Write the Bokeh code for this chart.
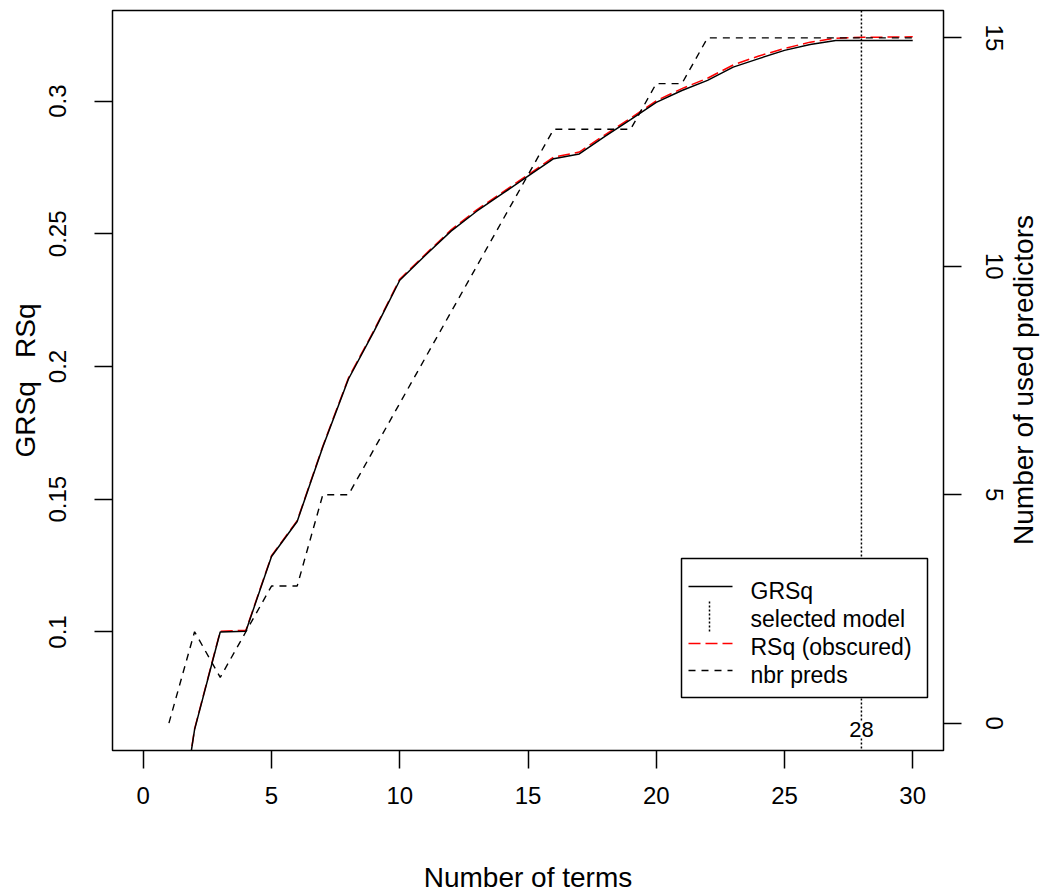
import math
from bokeh.plotting import figure
from bokeh.layouts import row
from bokeh.models import Range1d, LinearAxis, FixedTicker, Span, Label, BoxAnnotation, Arrow
from bokeh.embed import file_html
from bokeh.resources import INLINE

# model size (number of terms) on the x axis
n_terms = list(range(1, 31))

# generalized R-squared of each pruned model
grsq = [0.0000, 0.0632, 0.1000, 0.1003, 0.1284, 0.1416, 0.1697, 0.1953, 0.2133, 0.2325,
        0.2419, 0.2510, 0.2585, 0.2651, 0.2717, 0.2783, 0.2801, 0.2867, 0.2930, 0.2995,
        0.3040, 0.3078, 0.3128, 0.3160, 0.3191, 0.3213, 0.3228, 0.3228, 0.3228, 0.3228]

# in-sample R-squared of each pruned model
rsq = [0.0000, 0.0635, 0.1003, 0.1006, 0.1287, 0.1419, 0.1700, 0.1957, 0.2137, 0.2329,
       0.2423, 0.2515, 0.2590, 0.2656, 0.2722, 0.2789, 0.2808, 0.2873, 0.2936, 0.3001,
       0.3047, 0.3086, 0.3136, 0.3170, 0.3198, 0.3222, 0.3237, 0.3240, 0.3241, 0.3242]

# number of predictors used by each pruned model
nbr_preds = [0, 2, 1, 2, 3, 3, 5, 5, 6, 7, 8, 9, 10, 11, 12,
             13, 13, 13, 13, 14, 14, 15, 15, 15, 15, 15, 15, 15, 15, 15]

selected_terms = 28

x_ticks = [0, 5, 10, 15, 20, 25, 30]
left_ticks = [0.1, 0.15, 0.2, 0.25, 0.3]
left_tick_labels = ["0.1", "0.15", "0.2", "0.25", "0.3"]
right_ticks = [0, 5, 10, 15]

FONT = "Liberation Sans"
TICK_FS = "24px"
TITLE_FS = "28px"
LEG_FS = "23px"

MAIN_W, STRIP_W, H = 1006, 40, 895

p = figure(width=MAIN_W, height=H,
           x_range=Range1d(-1.2, 31.2), y_range=Range1d(0.05534, 0.33412),
           output_backend="svg", toolbar_location=None,
           min_border_left=112, min_border_right=MAIN_W - 943,
           min_border_top=10, min_border_bottom=144)
p.extra_y_ranges = {"preds": Range1d(-0.6, 15.6)}
p.background_fill_color = "white"
p.border_fill_color = "white"
p.outline_line_color = "black"
p.outline_line_width = 1.5
p.xgrid.visible = False
p.ygrid.visible = False


def style_axis(ax):
    ax.axis_line_color = None
    ax.major_tick_out = 18
    ax.major_tick_in = 0
    ax.minor_tick_out = 0
    ax.minor_tick_in = 0
    ax.major_tick_line_width = 1.5
    ax.major_tick_line_color = "black"
    ax.major_label_text_font = FONT
    ax.major_label_text_font_size = TICK_FS
    ax.major_label_text_color = "black"
    ax.axis_label_text_font = FONT
    ax.axis_label_text_font_size = TITLE_FS
    ax.axis_label_text_font_style = "normal"
    ax.axis_label_text_color = "black"


xa = p.xaxis[0]
style_axis(xa)
xa.ticker = FixedTicker(ticks=x_ticks)
xa.axis_label = "Number of terms"
xa.major_label_standoff = 18
xa.axis_label_standoff = 55

ya = p.yaxis[0]
style_axis(ya)
ya.ticker = FixedTicker(ticks=left_ticks)
ya.major_label_overrides = {t: s for t, s in zip(left_ticks, left_tick_labels)}
ya.major_label_orientation = "vertical"
ya.axis_label = "GRSq \u00a0 RSq"
ya.major_label_standoff = 28
ya.axis_label_standoff = 6

ra = LinearAxis(y_range_name="preds")
style_axis(ra)
ra.ticker = FixedTicker(ticks=right_ticks)
ra.major_label_orientation = "vertical"
ra.major_label_standoff = 24
p.add_layout(ra, "right")

# curves: RSq underneath, GRSq on top, predictor count on the right scale
p.line(n_terms, rsq, line_color="red", line_width=1.5, line_dash="12 5")
p.line(n_terms, grsq, line_color="black", line_width=1.5)
p.line(n_terms, nbr_preds, y_range_name="preds", line_color="black",
       line_width=1.4, line_dash="7 6")

# selected model marker
p.add_layout(Span(location=selected_terms, dimension="height", line_color="black",
                  line_width=1.5, line_dash="2 2"))
p.add_layout(Label(x=selected_terms, x_units="data", y=21, y_units="screen",
                   text=str(selected_terms), text_align="center", text_baseline="middle",
                   text_font=FONT, text_font_size="22px", text_color="black",
                   background_fill_color="white"))

# legend box
p.add_layout(BoxAnnotation(left=569, right=815, bottom=53, top=192,
                           left_units="screen", right_units="screen",
                           bottom_units="screen", top_units="screen",
                           fill_color="white", fill_alpha=1.0,
                           line_color="black", line_width=1.5, line_alpha=1.0))

sample_x0, sample_x1 = 576, 620
p.add_layout(Arrow(end=None, x_start=sample_x0, y_start=164, x_end=sample_x1, y_end=164,
                   start_units="screen", end_units="screen",
                   line_color="black", line_width=1.5))
p.add_layout(Arrow(end=None, x_start=597, y_start=149, x_end=597, y_end=118,
                   start_units="screen", end_units="screen",
                   line_color="black", line_width=1.5, line_dash="2 2"))
p.add_layout(Arrow(end=None, x_start=sample_x0, y_start=107, x_end=sample_x1, y_end=107,
                   start_units="screen", end_units="screen",
                   line_color="red", line_width=1.5, line_dash="12 5"))
p.add_layout(Arrow(end=None, x_start=sample_x0, y_start=80, x_end=sample_x1, y_end=80,
                   start_units="screen", end_units="screen",
                   line_color="black", line_width=1.4, line_dash="7 6"))

legend_texts = ["GRSq", "selected model", "RSq (obscured)", "nbr preds"]
legend_y = [160, 132, 104, 76]
for txt, ly in zip(legend_texts, legend_y):
    p.add_layout(Label(x=638, y=ly, x_units="screen", y_units="screen", text=txt,
                       text_align="left", text_baseline="middle", text_font=FONT,
                       text_font_size=LEG_FS, text_color="black"))

# narrow strip on the right holding the right-hand axis title, reading upwards;
# the row aligns its frame with the main plot frame, so y is measured from that bottom
strip = figure(width=STRIP_W, height=H, x_range=Range1d(0, 1), y_range=Range1d(0, 1),
               output_backend="svg", toolbar_location=None,
               x_axis_location=None, y_axis_location=None,
               min_border_left=0, min_border_right=0, min_border_top=0, min_border_bottom=0)
strip.outline_line_color = None
strip.background_fill_color = "white"
strip.border_fill_color = "white"
strip.grid.visible = False
strip.add_layout(Label(x=17, y=370.5, x_units="screen", y_units="screen",
                       angle=math.pi / 2, text="Number of used predictors",
                       text_align="center", text_baseline="middle", text_font=FONT,
                       text_font_size=TITLE_FS, text_color="black"))

layout = row(p, strip)
open("out.html", "w").write(file_html(layout, INLINE))
